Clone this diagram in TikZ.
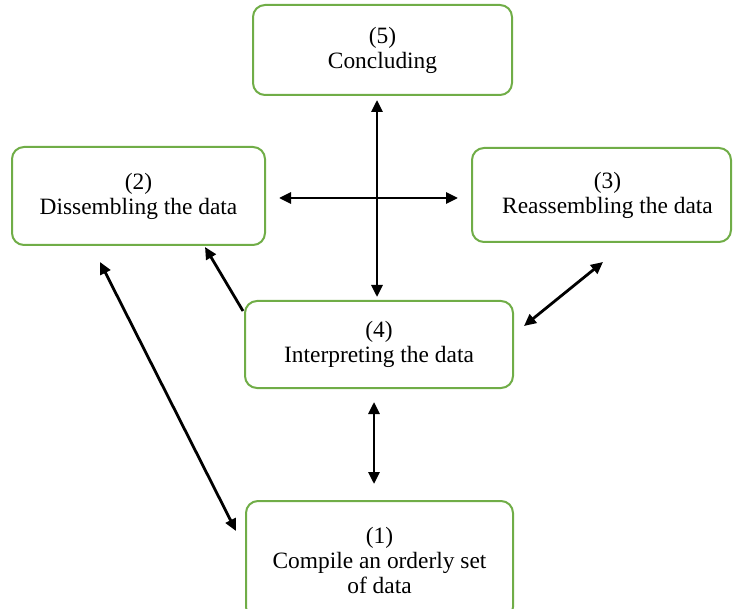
\documentclass[tikz,border=0pt]{standalone}
\usepackage{fontspec}
\setmainfont{Liberation Serif}
\usetikzlibrary{arrows.meta}
\definecolor{boxgreen}{RGB}{112,173,71}
\begin{document}
\begin{tikzpicture}[x=1pt,y=-1pt,
  stagebox/.style={draw=boxgreen, line width=2pt, rounded corners=12pt, align=center,
    inner sep=0pt, font=\fontsize{23.4}{25}\selectfont},
  link/.style={line width=2.8pt, {Triangle[length=12pt,width=11pt]}-{Triangle[length=12pt,width=11pt]}},
  onelink/.style={line width=2.8pt, -{Triangle[length=12pt,width=11pt]}}]
\useasboundingbox (0,0) rectangle (733,609);
\clip (0,0) rectangle (733,609);
\node[stagebox, minimum width=259pt, minimum height=90pt] (s5) at (382.5,50) {(5)\\Concluding};
\node[stagebox, minimum width=253pt, minimum height=98pt] (s2) at (138.5,196) {(2)\\Dissembling the data};
\node[stagebox, minimum width=259pt, minimum height=94pt] (s3) at (601.5,195) {\hspace*{12pt}(3)\\\hspace*{12pt}Reassembling the data};
\node[stagebox, minimum width=268pt, minimum height=87pt] (s4) at (379,344.5) {(4)\\Interpreting the data};
\node[stagebox, minimum width=267pt, minimum height=118pt] (s1) at (379.5,560) {(1)\\Compile an orderly set\\of data};
% connector end points
\coordinate (v5) at (377,100);
\coordinate (v4) at (377,297);
\coordinate (h2) at (279,198);
\coordinate (h3) at (458,198);
\coordinate (d4) at (243,311);
\coordinate (d2) at (205,247);
\coordinate (l2) at (100,262);
\coordinate (l1) at (236,531);
\coordinate (r3) at (603,262);
\coordinate (r4) at (524,326);
\coordinate (u4) at (374,402);
\coordinate (u1) at (374,484);
\draw[link] (v5) -- (v4);
\draw[link] (h2) -- (h3);
\draw[onelink] (d4) -- (d2);
\draw[link] (l2) -- (l1);
\draw[link] (r3) -- (r4);
\draw[link] (u4) -- (u1);
\end{tikzpicture}
\end{document}
